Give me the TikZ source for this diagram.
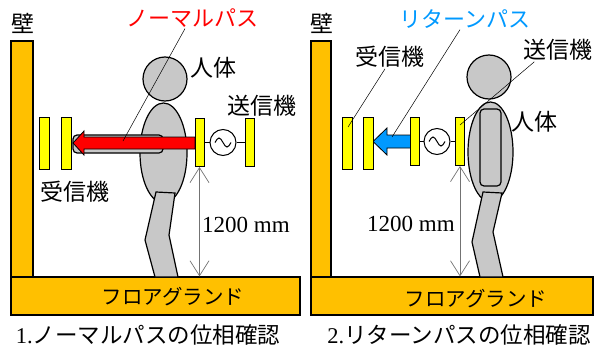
\documentclass[tikz,border=0pt]{standalone}
\usepackage{fontspec}
\setmainfont{Liberation Serif}
\newfontfamily\jp{Noto Sans CJK JP}
\usetikzlibrary{arrows.meta}

\definecolor{slabc}{RGB}{255,192,0}
\definecolor{padc}{RGB}{255,255,0}
\definecolor{bodyc}{RGB}{200,200,200}
\definecolor{normalc}{RGB}{255,0,0}
\definecolor{returnc}{RGB}{0,153,255}

\begin{document}
\begin{tikzpicture}[x=1pt,y=-1pt,
    slab/.style={draw,line width=1.2pt,fill=slabc,inner sep=0pt},
    body/.style={draw,line width=1.2pt,fill=bodyc},
    txpad/.style={draw,line width=1pt,fill=padc,inner sep=0pt,minimum width=9pt,minimum height=48pt},
    rxpad/.style={draw,line width=1pt,fill=padc,inner sep=0pt,minimum width=10pt,minimum height=52pt},
    src/.style={draw,circle,line width=1pt,fill=white,inner sep=0pt,minimum size=26pt},
    lbl/.style={font=\jp\fontsize{23}{23}\selectfont,inner sep=1pt},
    pathlbl/.style={font=\jp\fontsize{22}{22}\selectfont,inner sep=1pt},
    caption/.style={font=\fontsize{22.5}{22.5}\selectfont,inner sep=0pt},
    lead/.style={line width=0.5pt},
    dim/.style={gray!90!black,line width=0.7pt,
      {Straight Barb[length=15pt,width=19pt]}-{Straight Barb[length=15pt,width=19pt]}}]
  \useasboundingbox (0,0) rectangle (594,348);

  % ---- 1. normal path ----
  \node[slab,minimum width=22pt,minimum height=236pt] (wallA) at (22,159) {};
  \node[slab,minimum width=289pt,minimum height=38pt] (floorA) at (155.5,296) {};
  \draw[body] (165,79) circle (22pt);
  \draw[body] (163.5,153) ellipse [x radius=23.5pt,y radius=50pt];
  \draw[body] (156,192) -- (175,193) -- (169,235) -- (178,277) -- (155,277) -- (145,240) -- cycle;
  \draw[body,rounded corners=4pt] (73,135) rectangle (163,153);
  \draw[line width=0.8pt,fill=normalc] (73,143) -- (84,131) -- (84,137) -- (195,137)
    -- (195,149) -- (84,149) -- (84,155) -- cycle;
  \node[rxpad] (rxA1) at (44.5,143) {};
  \node[rxpad] (rxA2) at (66.5,143) {};
  \node[txpad] (txA) at (199.5,142.5) {};
  \node[src] (acA) at (223,142.5) {};
  \node[txpad] (gndA) at (249.5,142.5) {};
  \draw[line width=1pt] (txA) -- (acA) -- (gndA);
  \draw[line width=1pt] (215,142.5) sin (219,138) cos (223,142.5) sin (227,147) cos (231,142.5);
  \draw[dim] (txA.south) -- (txA.south |- floorA.north);
  \coordinate (hitA) at (123,141);
  \node[lbl] (wallA lbl) at (23,23) {壁};
  \node[pathlbl,text=normalc] (pathA) at (192,18) {ノーマルパス};
  \node[lbl] (humanA) at (213,68) {人体};
  \node[lbl] (sendA) at (262,106) {送信機};
  \node[lbl] (recvA) at (75,192) {受信機};
  \node[font=\fontsize{23}{23}\selectfont] (heightA) at (246,225) {1200 mm};
  \node[font=\jp\fontsize{20.5}{20.5}\selectfont] (floorA lbl) at (173,297) {フロアグランド};
  \node[caption] (capA) at (148,335) {1.{\jp ノーマルパスの位相確認}};
  \draw[lead] ([xshift=-7pt]pathA.south) -- (hitA);

  % ---- 2. return path ----
  \node[slab,minimum width=20pt,minimum height=236pt] (wallB) at (321,159) {};
  \node[slab,minimum width=282pt,minimum height=38pt] (floorB) at (452,296) {};
  \draw[body] (489,77) circle (22pt);
  \draw[body] (490.5,152) ellipse [x radius=22.5pt,y radius=50pt];
  \draw[body] (483,192) -- (502,193) -- (493,232) -- (503,277) -- (480,277) -- (472,242) -- cycle;
  \draw[body,rounded corners=4pt] (480,109) rectangle (501,186);
  \draw[line width=0.8pt,fill=returnc] (373,141.5) -- (387,128) -- (387,135) -- (411,135)
    -- (411,148) -- (387,148) -- (387,155) -- cycle;
  \node[rxpad] (rxB1) at (347.5,143) {};
  \node[rxpad] (rxB2) at (368.5,143) {};
  \node[txpad] (gndB) at (415,141.5) {};
  \node[src] (acB) at (437,141.5) {};
  \node[txpad] (txB) at (460,141.5) {};
  \draw[line width=1pt] (gndB) -- (acB) -- (txB);
  \draw[line width=1pt] (429,141.5) sin (433,137) cos (437,141.5) sin (441,146) cos (445,141.5);
  \draw[dim] (txB.south) -- (txB.south |- floorB.north);
  \coordinate (hitB) at (392,137);
  \coordinate (hitRx) at (348,127);
  \coordinate (hitTx) at (460,125);
  \node[lbl] (wallB lbl) at (322,23) {壁};
  \node[pathlbl,text=returnc] (pathB) at (465,19) {リターンパス};
  \node[lbl] (recvB) at (390,57) {受信機};
  \node[lbl] (sendB) at (558,50) {送信機};
  \node[lbl] (humanB) at (534,122) {人体};
  \node[font=\fontsize{23}{23}\selectfont] (heightB) at (411,224) {1200 mm};
  \node[font=\jp\fontsize{20.5}{20.5}\selectfont] (floorB lbl) at (476,299) {フロアグランド};
  \node[caption] (capB) at (459,335) {2.{\jp リターンパスの位相確認}};
  \draw[lead] ([xshift=-5pt]pathB.south) -- (hitB);
  \draw[lead] ([xshift=-5pt]recvB.south) -- (hitRx);
  \draw[lead] ([xshift=12pt]sendB.south west) -- (hitTx);
\end{tikzpicture}
\end{document}
